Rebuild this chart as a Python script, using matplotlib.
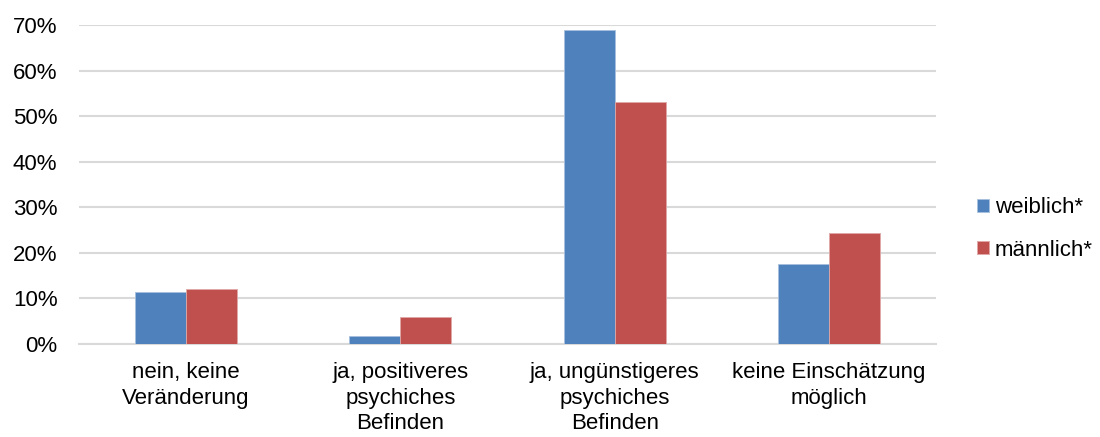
import matplotlib
matplotlib.use("Agg")
import matplotlib.pyplot as plt
import numpy as np
from matplotlib.ticker import PercentFormatter, MultipleLocator

categories = [
    "nein, keine\nVeränderung",
    "ja, positiveres\npsychiches\nBefinden",
    "ja, ungünstigeres\npsychiches\nBefinden",
    "keine Einschätzung\nmöglich",
]
weiblich = [0.114, 0.017, 0.689, 0.176]
maennlich = [0.121, 0.060, 0.530, 0.243]
series_labels = ["weiblich*", "männlich*"]

plt.rcParams["font.family"] = ["Liberation Sans", "DejaVu Sans"]
FS = 16

fig = plt.figure(figsize=(11, 4.37), dpi=100)
ax = fig.add_axes([0.0718, 0.2128, 0.851 - 0.0718, 0.9428 - 0.2128])

x = np.arange(len(categories))
w = 0.238
blue = "#4F81BD"
red = "#C0504D"
ax.bar(x - w / 2, weiblich, w, color=blue, edgecolor="#A7C0DE", linewidth=0.6,
       label=series_labels[0], zorder=3)
ax.bar(x + w / 2, maennlich, w, color=red, edgecolor="#DFA8A6", linewidth=0.6,
       label=series_labels[1], zorder=3)

ax.set_xlim(-0.5, len(categories) - 0.5)
ax.set_ylim(0, 0.7)
ax.yaxis.set_major_locator(MultipleLocator(0.1))
ax.yaxis.set_major_formatter(PercentFormatter(1.0, decimals=0))
ax.grid(axis="y", color="#D9D9D9", linewidth=1.5, zorder=0)
ax.set_axisbelow(True)
for s in ["top", "right", "left", "bottom"]:
    ax.spines[s].set_visible(False)
ax.axhline(0, color="#D9D9D9", linewidth=1.5, zorder=1, clip_on=False)

ax.set_xticks(x)
ax.set_xticklabels(categories, fontsize=FS, linespacing=1.29)
ax.tick_params(axis="both", length=0, labelsize=FS, colors="#000000")
ax.tick_params(axis="x", pad=13)
ax.tick_params(axis="y", pad=15.5)

fig.legend(loc="center left", bbox_to_anchor=(0.888, 0.476), frameon=False,
           fontsize=FS, handlelength=0.54, handleheight=0.54,
           handletextpad=0.27, labelspacing=0.95, borderpad=0,
           borderaxespad=0)

fig.savefig("out.png", dpi=100, facecolor="white")
